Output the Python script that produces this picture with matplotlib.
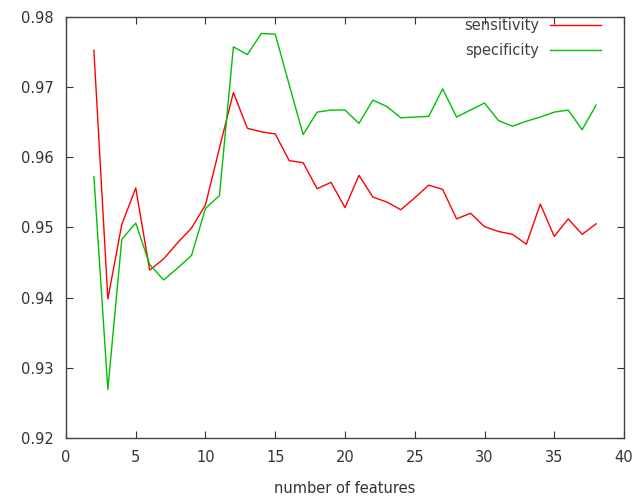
import matplotlib
matplotlib.use("Agg")
import matplotlib.pyplot as plt

features = list(range(2, 39))
sensitivity = [0.9752, 0.9398, 0.9504, 0.9556, 0.9439, 0.9455, 0.9478, 0.9499, 0.9532,
               0.9613, 0.9692, 0.9641, 0.9636, 0.9633, 0.9595, 0.9592, 0.9555, 0.9564,
               0.9528, 0.9574, 0.9543, 0.9536, 0.9525, 0.9542, 0.9560, 0.9554, 0.9512,
               0.9520, 0.9501, 0.9494, 0.9490, 0.9476, 0.9533, 0.9487, 0.9512, 0.9490,
               0.9505]
specificity = [0.9572, 0.9269, 0.9483, 0.9506, 0.9447, 0.9425, 0.9442, 0.9460, 0.9527,
               0.9545, 0.9757, 0.9746, 0.9776, 0.9775, 0.9703, 0.9632, 0.9664, 0.9667,
               0.9667, 0.9648, 0.9681, 0.9672, 0.9656, 0.9657, 0.9658, 0.9697, 0.9657,
               0.9667, 0.9677, 0.9652, 0.9644, 0.9651, 0.9657, 0.9664, 0.9667, 0.9639,
               0.9674]
xticks = [0, 5, 10, 15, 20, 25, 30, 35, 40]
yticks = [0.92, 0.93, 0.94, 0.95, 0.96, 0.97, 0.98]

fig = plt.figure(figsize=(6.37, 5.04), dpi=100)
ax = fig.add_axes([0.1036, 0.131, 0.876, 0.836])

ax.plot(features, sensitivity, color="#ff0000", lw=1, label="sensitivity")
ax.plot(features, specificity, color="#00c000", lw=1, label="specificity")

ax.set_xlim(0, 40)
ax.set_ylim(0.92, 0.98)
ax.set_xticks(xticks)
ax.set_yticks(yticks)
ax.set_yticklabels(["%.2f" % v for v in yticks])
ax.tick_params(direction="in", top=True, right=True, length=5, width=0.8,
               labelsize=10.5, colors="#333333", pad=9)
for s in ax.spines.values():
    s.set_color("#444444")
    s.set_linewidth(1)
ax.set_xlabel("number of features", fontsize=10.5, color="#333333", labelpad=11)

ax.legend(loc="upper right", frameon=False, markerfirst=False, fontsize=10.5,
          handlelength=3.5, labelspacing=0.65, borderaxespad=0.0,
          labelcolor="#404040", bbox_to_anchor=(0.97, 1.01))

fig.savefig("out.png", dpi=100)
